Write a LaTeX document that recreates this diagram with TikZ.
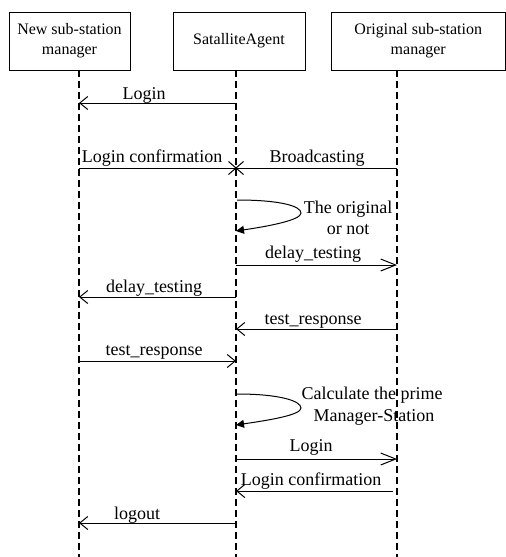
\documentclass[tikz,border=0pt]{standalone}
\usepackage{fontspec}
\setmainfont{Liberation Serif}
\usetikzlibrary{arrows.meta,shapes.misc}

\tikzset{
  actor/.style={draw, line width=1pt, minimum height=58pt, inner sep=0pt,
    align=center, font=\fontsize{16}{20}\selectfont},
  lifeline/.style={line width=1.6pt, dash pattern=on 7pt off 4pt},
  msg/.style={line width=1pt},
  openhead/.style={-{Straight Barb[length=8pt,width=13pt,line width=1pt]}},
  longhead/.style={-{Straight Barb[length=15pt,width=12pt,line width=1pt]}},
  selfmsg/.style={line width=1pt, -{Triangle[length=8pt,width=8pt]}},
  lbl/.style={anchor=base, inner sep=0pt, font=\fontsize{18}{21}\selectfont},
}

\begin{document}
\begin{tikzpicture}[x=1pt, y=-1pt]
    \useasboundingbox (0,0) rectangle (506,557);

    % Actors
    \node[actor, minimum width=121pt] (newmgr) at (69.5,41) {New sub-station\\manager};
    \node[actor, minimum width=132pt] (agent) at (239,41) {SatalliteAgent};
    \node[actor, minimum width=174.5pt] (origmgr) at (418.25,41) {Original sub-station\\manager};

    % Lifelines
    \coordinate (top1) at (79,70);   \coordinate (bot1) at (79,557);
    \coordinate (top2) at (236,70);  \coordinate (bot2) at (236,557);
    \coordinate (top3) at (397,70);  \coordinate (bot3) at (397,557);
    \foreach \i in {1,2,3}
        \draw[lifeline] (top\i) -- (bot\i);

    % Message rows: a = new manager, b = agent, c = original manager
    \foreach \r/\y in {1/103, 2/168, 4/265, 5/297, 6/329, 7/361, 9/459, 10/491, 11/523} {
        \coordinate (a\r) at (79,\y);
        \coordinate (b\r) at (236,\y);
        \coordinate (c\r) at (397,\y);
    }
    \coordinate (b3s) at (237,200);  \coordinate (b3t) at (301,213);  \coordinate (b3e) at (236,231);
    \coordinate (b8s) at (237,394);  \coordinate (b8t) at (301,408);  \coordinate (b8e) at (236,425);

    % Login
    \draw[msg, openhead] (b1) -- (a1);
    \node[lbl] (t1) at (144,99) {Login};

    % Login confirmation / Broadcasting
    \node[draw, cross out, line width=1pt, minimum width=14pt, minimum height=12pt,
        inner sep=0pt] (cross) at (b2) {};
    \draw[msg] (a2) -- (cross.center);
    \draw[msg] (c2) -- (cross.center);
    \node[lbl] (t2a) at (152,162) {Login confirmation};
    \node[lbl] (t2b) at (317,162) {Broadcasting};

    % The original or not
    \draw[selfmsg] (b3s) .. controls (280,200) and (301,206) .. (b3t)
        .. controls (301,220) and (270,226) .. (b3e);
    \node[lbl] (t3a) at (348,213) {The original};
    \node[lbl] (t3b) at (348,234) {or not};

    % delay_testing
    \draw[msg, longhead] (b4) -- (c4);
    \node[lbl] (t4) at (313,258) {delay\_testing};
    \draw[msg, openhead] (b5) -- (a5);
    \node[lbl] (t5) at (154,292) {delay\_testing};

    % test_response
    \draw[msg, openhead] (c6) -- (b6);
    \node[lbl] (t6) at (313,324) {test\_response};
    \draw[msg, openhead] (a7) -- (b7);
    \node[lbl] (t7) at (154,355) {test\_response};

    % Calculate the prime Manager-Station
    \draw[selfmsg] (b8s) .. controls (280,394) and (301,401) .. (b8t)
        .. controls (301,415) and (270,420) .. (b8e);
    \node[lbl] (t8a) at (372,399) {Calculate the prime};
    \node[lbl] (t8b) at (374,421) {Manager-Station};

    % Login / Login confirmation
    \draw[msg, longhead] (b9) -- (c9);
    \node[lbl] (t9) at (311,451) {Login};
    \draw[msg, openhead, shorten <=4pt] (c10) -- (b10);
    \node[lbl] (t10) at (311,485) {Login confirmation};

    % logout
    \draw[msg, openhead] (b11) -- (a11);
    \node[lbl] (t11) at (137,519) {logout};
\end{tikzpicture}
\end{document}
